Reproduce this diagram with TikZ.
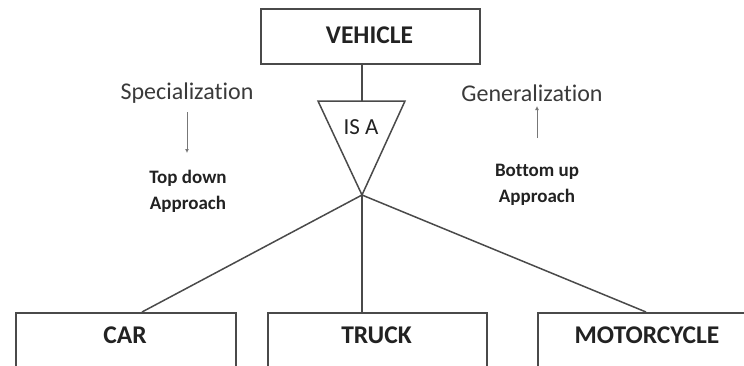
\documentclass[tikz,border=0pt]{standalone}
\usepackage{fontspec}
\setmainfont{Carlito}[Ligatures=NoCommon]
\usetikzlibrary{arrows.meta}
\definecolor{edge}{HTML}{4A4A4A}
\definecolor{txt}{HTML}{222222}
\definecolor{soft}{HTML}{3A3A3A}
\definecolor{hintc}{HTML}{777777}
\tikzset{
  entbox/.style={draw=edge, line width=1.5pt, rectangle, inner sep=0pt, fill=white},
  enttext/.style={font=\fontsize{25.5}{30}\selectfont\bfseries, text=txt, inner sep=0pt},
  bigword/.style={font=\fontsize{24}{28}\selectfont, text=soft, inner sep=0pt},
  smallbold/.style={font=\fontsize{19}{25}\selectfont\bfseries, text=txt, inner sep=0pt, align=center},
  link/.style={draw=edge, line width=1.5pt},
  hint/.style={draw=hintc, line width=0.9pt, -{Latex[length=4pt,width=4pt]}}
}
\begin{document}
\begin{tikzpicture}[x=1pt,y=-1pt]
\useasboundingbox (0,0) rectangle (744,365);
\clip (0,0) rectangle (744,365);
% top entity
\node[entbox, anchor=north west, minimum width=219, minimum height=55] (vehicle) at (260,8) {};
\node[enttext] (vehicleT) at (369.5,35.5) {VEHICLE};
% ISA triangle
\coordinate (tl) at (318,101);
\coordinate (tr) at (405,101);
\coordinate (apex) at (362,195);
\coordinate (ttop) at (362,101);
\draw[link, line join=miter] (tl) -- (tr) -- (apex) -- cycle;
\node[font=\fontsize{23}{28}\selectfont, text=txt, inner sep=0pt] (isa) at (361,127) {IS A};
\draw[link] (vehicle.south -| ttop) -- (ttop);
% bottom entities
\node[entbox, anchor=north west, minimum width=220, minimum height=80] (car) at (15,312) {};
\node[entbox, anchor=north west, minimum width=219, minimum height=80] (truck) at (267,312) {};
\node[entbox, anchor=north west, minimum width=240, minimum height=80] (moto) at (537,312) {};
\node[enttext] (carT) at (125,335) {CAR};
\node[enttext] (truckT) at (376.5,335) {TRUCK};
\node[enttext] (motoT) at (647,335) {MOTORCYCLE};
\coordinate (carin) at (142,312);
\coordinate (motoin) at (646,312);
\draw[link] (apex) -- (carin);
\draw[link] (apex) -- (truck.north -| apex);
\draw[link] (apex) -- (motoin);
% side notes
\node[bigword] (spec) at (187,93) {Specialization};
\node[bigword] (gen) at (532,93) {Generalization};
\node[smallbold] (td1) at (188,178) {Top down};
\node[smallbold] (td2) at (188,204) {Approach};
\node[smallbold] (bu1) at (537,172) {Bottom up};
\node[smallbold] (bu2) at (537,197) {Approach};
\coordinate (s1) at (187,112);
\coordinate (s2) at (187,153);
\coordinate (g1) at (537,138);
\coordinate (g2) at (537,106);
\draw[hint] (s1) -- (s2);
\draw[hint] (g1) -- (g2);
\end{tikzpicture}
\end{document}
